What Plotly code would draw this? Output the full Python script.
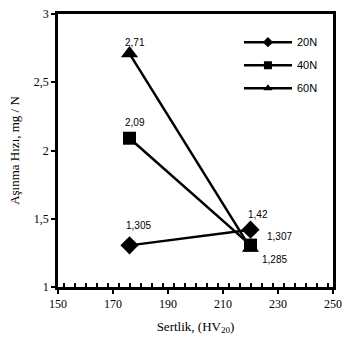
import plotly.graph_objects as go

hardness = [176, 220]
series_names = ["20N", "40N", "60N"]
wear_20n = [1.305, 1.42]
wear_40n = [2.09, 1.307]
wear_60n = [2.71, 1.285]
label_20n = ["1,305", "1,42"]
label_40n = ["2,09", "1,307"]
label_60n = ["2,71", "1,285"]

symbols = ["diamond", "square", "triangle-up"]
sizes = [14, 13, 15]
series = [wear_20n, wear_40n, wear_60n]
labels = [label_20n, label_40n, label_60n]

fig = go.Figure()
for name, ys, sym, sz in zip(series_names, series, symbols, sizes):
    fig.add_trace(go.Scatter(x=hardness, y=ys, mode="lines+markers", name=name,
                             line=dict(color="black", width=2.5),
                             marker=dict(symbol=sym, size=sz, color="black"),
                             showlegend=False, cliponaxis=False))
    fig.add_trace(go.Scatter(x=[None], y=[None], mode="lines+markers", name=name,
                             legendgroup=name,
                             line=dict(color="black", width=2.5),
                             marker=dict(symbol=sym, size=8, color="black")))

# label offsets in pixels (xshift, yshift)
offsets = [[(9, 20), (7, 15)], [(5, 16), (29, 9)], [(5, 11), (24, -11)]]
for ys, labs, offs in zip(series, labels, offsets):
    for x, y, t, (dx, dy) in zip(hardness, ys, labs, offs):
        fig.add_annotation(x=x, y=y, text=t, showarrow=False, xshift=dx, yshift=dy,
                           font=dict(family="Liberation Sans, Arial", size=10, color="black"))

axis_common = dict(showgrid=False, zeroline=False, showline=True, linecolor="black",
                   linewidth=2.5, mirror=True, ticks="outside", tickcolor="black",
                   tickwidth=2, ticklen=4, ticklabeloverflow="allow",
                   tickfont=dict(family="Liberation Serif, Times New Roman", size=12, color="black"))

fig.update_xaxes(range=[150, 250], dtick=20, tick0=150,
                 minor=dict(dtick=4, ticks="inside", ticklen=4, tickwidth=2, tickcolor="black"),
                 title=dict(text="Sertlik, (HV<sub>20</sub>)", standoff=12,
                            font=dict(family="Liberation Serif, Times New Roman", size=13, color="black")),
                 **axis_common)
fig.update_yaxes(range=[1, 3], dtick=0.5, tick0=1,
                 title=dict(text="Aşınma Hızı, mg / N", standoff=12,
                            font=dict(family="Liberation Serif, Times New Roman", size=13, color="black")),
                 **axis_common)

fig.update_layout(width=342, height=345, margin=dict(l=58, r=9, t=14, b=58, autoexpand=False),
                  paper_bgcolor="white", plot_bgcolor="white", separators=", ",
                  legend=dict(x=0.658, y=0.95, xanchor="left", yanchor="top",
                              bgcolor="rgba(0,0,0,0)", tracegroupgap=4, itemwidth=48,
                              font=dict(family="Liberation Sans, Arial", size=11, color="black")))

fig.write_html("out.html", config={"displayModeBar": False},
               post_script="document.body.style.margin='0';document.body.style.overflow='hidden';")
